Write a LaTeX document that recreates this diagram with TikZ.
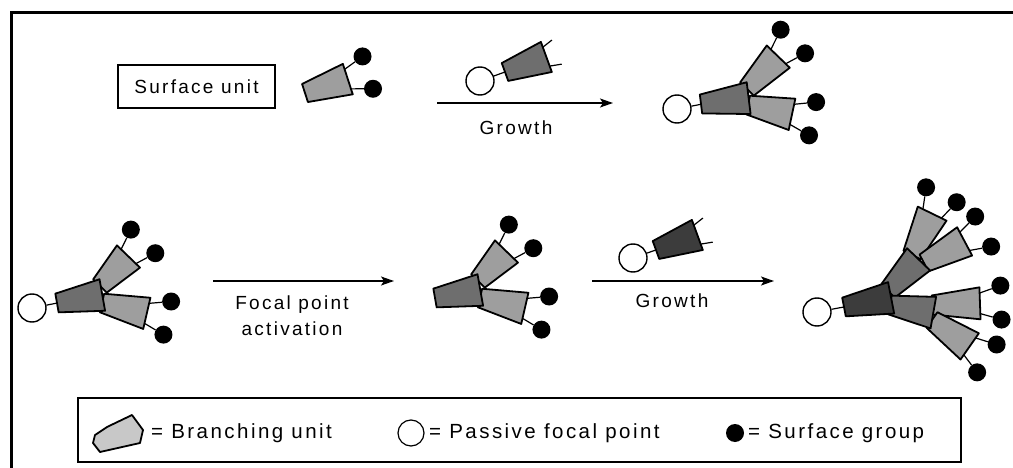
\documentclass[tikz,border=0pt]{standalone}
\usepackage{fontspec}
\setmainfont{Liberation Sans}[LetterSpace=12]
\usetikzlibrary{arrows.meta}

\definecolor{unitlight}{RGB}{158,158,158}
\definecolor{unitmid}{RGB}{110,110,110}
\definecolor{unitdark}{RGB}{60,60,60}
\definecolor{unitpale}{RGB}{200,200,200}

\pgfdeclarelayer{back}
\pgfsetlayers{back,main}

\tikzset{
  unitline/.style={draw=black, line width=1.8pt, line join=round},
  focal/.style={circle, draw=black, line width=1.4pt, fill=white, minimum size=28pt, inner sep=0pt},
  sgroup/.style={circle, fill=black, minimum size=18pt, inner sep=0pt},
  stub/.style={line width=1.2pt},
  flow/.style={line width=1.5pt, -{Stealth[length=13pt,width=9pt,inset=3pt]}},
  lbl/.style={font=\fontsize{19}{24}\selectfont, inner sep=0pt},
  keylbl/.style={font=\fontsize{20.5}{24}\selectfont, inner sep=0pt, anchor=west},
}

% coordinates of one branching unit: base centre, direction, length
\newcommand\placeunit[5]{%
  \begin{scope}[shift={(#2,#3)}, rotate=#4]
    \coordinate (#1-c1) at (0,9.5);
    \coordinate (#1-c2) at (#5,16);
    \coordinate (#1-c3) at (#5,-16);
    \coordinate (#1-c4) at (0,-9.5);
    \coordinate (#1-su) at (#5+21,-17);
    \coordinate (#1-sd) at (#5+21,17);
    \coordinate (#1-au) at (#5-4,-9);
    \coordinate (#1-ad) at (#5-4,9);
    \coordinate (#1-fu) at (#5+11,-14);
    \coordinate (#1-fd) at (#5+12,12);
    \coordinate (#1-in) at (4,0);
  \end{scope}}
\newcommand\drawunit[2]{\draw[unitline, fill=#2] (#1-c1) -- (#1-c2) -- (#1-c3) -- (#1-c4) -- cycle;}
% two surface groups on the outer end of a unit
\newcommand\groups[1]{%
  \node[sgroup] (#1-gu) at (#1-su) {};
  \node[sgroup] (#1-gd) at (#1-sd) {};
  \begin{pgfonlayer}{back}
    \draw[stub] (#1-au) -- (#1-gu);
    \draw[stub] (#1-ad) -- (#1-gd);
  \end{pgfonlayer}}
% bare bonds on the outer end of a unit
\newcommand\bonds[1]{%
  \begin{pgfonlayer}{back}
    \draw[stub] (#1-au) -- (#1-fu);
    \draw[stub] (#1-ad) -- (#1-fd);
  \end{pgfonlayer}}

\begin{document}
\begin{tikzpicture}[x=1pt, y=-1pt]
\useasboundingbox (0,0) rectangle (1013,468);

% frame
\draw[line width=3pt, line join=miter] (11,470) -- (11,13) -- (1015,13);

% ---------- first row ----------
\node[draw, line width=1.6pt, minimum width=157pt, minimum height=43pt, lbl] (sulabel) at (196.5,86.5) {Surface unit};

\placeunit{su}{305}{93}{18}{45}
\drawunit{su}{unitlight}
\groups{su}

% reagent unit with its focal point
\placeunit{ra}{505}{72}{20}{44}
\drawunit{ra}{unitmid}
\bonds{ra}
\node[focal] (rac) at (480,81) {};
\begin{pgfonlayer}{back}\draw[stub] (rac) -- (ra-in);\end{pgfonlayer}

\coordinate (a1s) at (437,103);
\coordinate (a1e) at (613,103);
\draw[flow] (a1s) -- (a1e);
\node[lbl] (g1) at (516,128) {Growth};

% first generation tree
\placeunit{ta}{701}{104}{7}{48}
\placeunit{tau}{747}{89}{46}{45}
\placeunit{tal}{748}{105}{-12}{45}
\drawunit{tau}{unitlight}
\drawunit{tal}{unitlight}
\drawunit{ta}{unitmid}
\groups{tau}
\groups{tal}
\node[focal] (tac) at (677,109) {};
\begin{pgfonlayer}{back}\draw[stub] (tac) -- (ta-in);\end{pgfonlayer}

% ---------- second row ----------
\placeunit{tb}{57}{303}{10}{46}
\placeunit{tbu}{100}{286}{46}{41}
\placeunit{tbl}{102}{303}{-13}{46}
\drawunit{tbu}{unitlight}
\drawunit{tbl}{unitlight}
\drawunit{tb}{unitmid}
\groups{tbu}
\groups{tbl}
\node[focal] (tbc) at (32,308) {};
\begin{pgfonlayer}{back}\draw[stub] (tbc) -- (tb-in);\end{pgfonlayer}

\coordinate (a2s) at (213,281);
\coordinate (a2e) at (394,281);
\draw[flow] (a2s) -- (a2e);
\node[lbl] (fp1) at (292,305) {Focal point};
\node[lbl] (fp2) at (292,329) {activation};

% activated tree
\placeunit{tc}{435}{298}{10}{46}
\placeunit{tcu}{478}{281}{46}{41}
\placeunit{tcl}{480}{298}{-13}{46}
\drawunit{tcu}{unitlight}
\drawunit{tcl}{unitlight}
\drawunit{tc}{unitmid}
\groups{tcu}
\groups{tcl}

% second reagent unit
\placeunit{rb}{656}{250}{20}{44}
\drawunit{rb}{unitdark}
\bonds{rb}
\node[focal] (rbc) at (633,258) {};
\begin{pgfonlayer}{back}\draw[stub] (rbc) -- (rb-in);\end{pgfonlayer}

\coordinate (a3s) at (592,281);
\coordinate (a3e) at (774,281);
\draw[flow] (a3s) -- (a3e);
\node[lbl] (g2) at (672,301) {Growth};

% second generation tree
\placeunit{td}{844}{307}{11}{48}
\placeunit{tdm}{888}{291}{46}{44}
\placeunit{tdn}{890}{305}{-10}{44}
\placeunit{tdmu}{912}{255}{64}{46}
\placeunit{tdmr}{924}{263}{28}{46}
\placeunit{tdnu}{932}{305}{2}{48}
\placeunit{tdnl}{932}{320}{-35}{46}
\drawunit{tdmu}{unitlight}
\drawunit{tdmr}{unitlight}
\drawunit{tdnu}{unitlight}
\drawunit{tdnl}{unitlight}
\drawunit{tdm}{unitmid}
\drawunit{tdn}{unitmid}
\drawunit{td}{unitdark}
\groups{tdmu}
\groups{tdmr}
\groups{tdnu}
\groups{tdnl}
\node[focal] (tdc) at (817,312) {};
\begin{pgfonlayer}{back}\draw[stub] (tdc) -- (td-in);\end{pgfonlayer}

% ---------- key ----------
\node[draw, line width=1.5pt, minimum width=883pt, minimum height=64pt] (key) at (519.5,430) {};
\draw[unitline, fill=unitpale] (93,443) -- (95,435) -- (107,427) -- (132,415) -- (143,430) -- (140,443) -- (100,452) -- cycle;
\node[keylbl] (k1) at (151,433) {= Branching unit};
\node[focal, minimum width=23pt, minimum height=26pt, line width=1.2pt] (kc) at (411,433) {};
\node[keylbl] (k2) at (429,433) {= Passive focal point};
\node[sgroup] (kd) at (735,433) {};
\node[keylbl] (k3) at (748,433) {= Surface group};
\end{tikzpicture}
\end{document}
